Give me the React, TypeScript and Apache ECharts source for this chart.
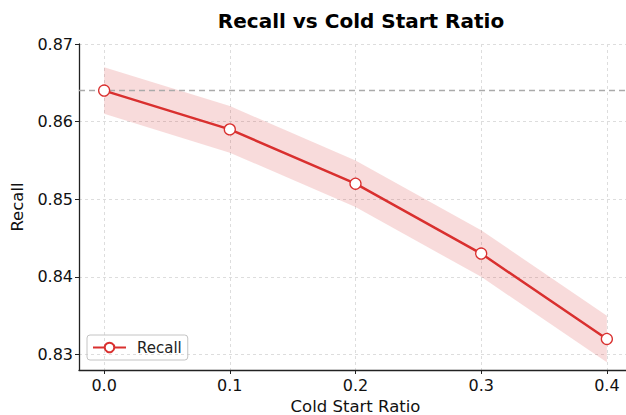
import React, { useEffect, useRef } from "react";
import * as echarts from "echarts";

const ratios = [0.0, 0.1, 0.2, 0.3, 0.4];
const recall = [0.864, 0.859, 0.852, 0.843, 0.832];
const recallLow = [0.861, 0.856, 0.849, 0.840, 0.829];
const recallHigh = [0.867, 0.862, 0.855, 0.846, 0.835];
const baseline = 0.864;
const xTicks = [0.0, 0.1, 0.2, 0.3, 0.4];
const yTicks = [0.83, 0.84, 0.85, 0.86, 0.87];

const FONT = "DejaVu Sans";
const RED = "#d9302f";

export default function App() {
  const ref = useRef<HTMLDivElement>(null);
  useEffect(() => {
    const chart = echarts.init(ref.current!, null, { renderer: "svg" });
    const bandData = ratios.map((x, i) => [x, recallLow[i], recallHigh[i]]);
    const lineData = ratios.map((x, i) => [x, recall[i]]);
    chart.setOption({
      animation: false,
      title: {
        text: "Recall vs Cold Start Ratio",
        left: 356,
        top: 6,
        textAlign: "center",
        textStyle: { fontFamily: FONT, fontSize: 20, fontWeight: "bold", color: "#000" },
      },
      legend: {
        data: ["Recall"],
        left: 87,
        top: 335,
        itemWidth: 33,
        itemHeight: 12,
        itemGap: 5,
        padding: [5, 6, 5, 5],
        borderColor: "#c4c4c4",
        borderWidth: 1,
        borderRadius: 3,
        textStyle: { fontFamily: FONT, fontSize: 15, color: "#222", padding: [0, 0, 0, 6] },
      },
      grid: { left: 79, top: 44, right: -6, bottom: 45, outerBoundsMode: "none", containLabel: false },
      xAxis: {
        type: "value",
        min: -0.02,
        max: 0.42,
        name: "Cold Start Ratio",
        nameLocation: "middle",
        nameGap: 28,
        nameTextStyle: { fontFamily: FONT, fontSize: 16.5, color: "#111" },
        axisLine: { show: true, onZero: false, lineStyle: { color: "#222", width: 1.3 } },
        axisTick: { show: true, customValues: xTicks, length: 4, lineStyle: { color: "#222" } },
        axisLabel: {
          customValues: xTicks,
          fontFamily: FONT,
          fontSize: 16,
          color: "#111",
          margin: 7,
          formatter: (v: number) => v.toFixed(1),
        },
        splitLine: { show: true, lineStyle: { color: "#dddddd", type: [3, 3], width: 1 } },
      },
      yAxis: {
        type: "value",
        min: 0.828,
        max: 0.87,
        name: "Recall",
        nameLocation: "middle",
        nameGap: 49,
        nameTextStyle: { fontFamily: FONT, fontSize: 16.5, color: "#111" },
        axisLine: { show: true, onZero: false, lineStyle: { color: "#222", width: 1.3 } },
        axisTick: { show: true, customValues: yTicks, length: 4, lineStyle: { color: "#222" } },
        axisLabel: {
          customValues: yTicks,
          fontFamily: FONT,
          fontSize: 16,
          color: "#111",
          margin: 6,
          formatter: (v: number) => v.toFixed(2),
        },
        splitLine: { show: true, lineStyle: { color: "#dddddd", type: [3, 3], width: 1 } },
      },
      series: [
        {
          name: "band",
          type: "custom",
          data: bandData,
          silent: true,
          z: 1,
          renderItem: (params: any, api: any) => {
            if (params.dataIndex !== 0) return null;
            const top = bandData.map((d) => api.coord([d[0], d[2]]));
            const bottom = bandData.map((d) => api.coord([d[0], d[1]])).reverse();
            return {
              type: "polygon",
              shape: { points: top.concat(bottom) },
              style: { fill: "rgba(214,39,40,0.17)" },
            };
          },
        },
        {
          name: "Recall",
          type: "line",
          data: lineData,
          symbol: "circle",
          symbolSize: 11,
          itemStyle: { color: "#fff", borderColor: RED, borderWidth: 1.3 },
          lineStyle: { color: RED, width: 2.5 },
          markLine: {
            silent: true,
            symbol: "none",
            precision: 4,
            label: { show: false },
            lineStyle: { color: "#aaaaaa", type: [6, 4], width: 1.3 },
            data: [{ yAxis: baseline }],
          },
          z: 5,
        },
      ],
    });
    return () => chart.dispose();
  }, []);
  return <div ref={ref} style={{ width: 626, height: 415, position: "absolute", left: 0, top: 0 }} />;
}
